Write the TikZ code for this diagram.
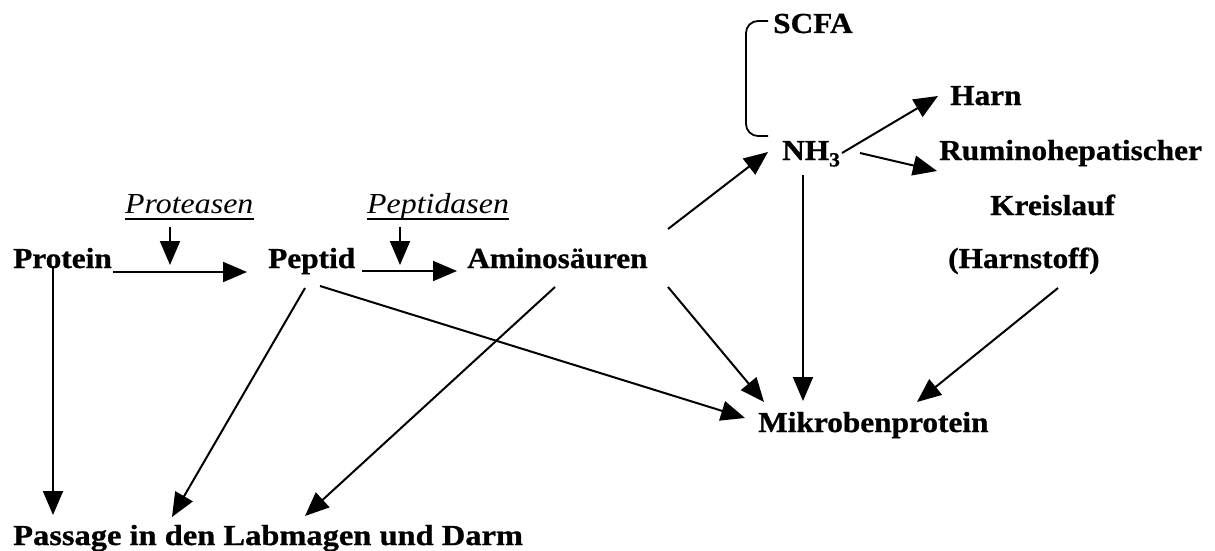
\documentclass[tikz,border=0pt]{standalone}
\usepackage{fontspec}
\setmainfont{Liberation Serif}[BoldFeatures={FakeBold=0.8}]
\usepackage{graphicx}
\usetikzlibrary{arrows.meta}
\newcommand\wide[2][1.08]{\scalebox{#1}[1]{#2}}
\begin{document}
\begin{tikzpicture}[x=1pt,y=-1pt,
  lbl/.style={inner sep=0pt,anchor=base west,font=\fontsize{29}{34}\selectfont\bfseries},
  enz/.style={inner sep=0pt,anchor=base west,font=\fontsize{29}{34}\selectfont\itshape},
  arr/.style={-{Triangle[length=24pt,width=20pt]},line width=2pt},
  ul/.style={line width=1.5pt},
  brk/.style={line width=1.8pt,rounded corners=12pt}]
\useasboundingbox (0,0) rectangle (1215,551);
% nodes
\node[lbl] (protein) at (13,268) {\wide{Protein}};
\node[lbl] (peptid) at (268,268) {\wide{Peptid}};
\node[lbl] (amino) at (467,268) {\wide{Aminosäuren}};
\node[enz] (proteasen) at (125,213) {\wide[1.1]{Proteasen}};
\node[enz] (peptidasen) at (367,213) {\wide[1.1]{Peptidasen}};
\node[lbl] (scfa) at (773,33) {\wide{SCFA}};
\node[lbl] (nh3) at (782,160) {\wide{NH\raisebox{-0.22em}{\fontsize{20}{20}\selectfont 3}}};
\node[lbl] (harn) at (950,105) {\wide{Harn}};
\node[lbl] (rumino) at (939,160) {\wide{Ruminohepatischer}};
\node[lbl] (kreis) at (990,215) {\wide{Kreislauf}};
\node[lbl] (harnstoff) at (948,268) {\wide{(Harnstoff)}};
\node[lbl] (mikro) at (758,432) {\wide{Mikrobenprotein}};
\node[lbl] (passage) at (13,545) {\wide[1.12]{Passage in den Labmagen und Darm}};
% underlines
\draw[ul] ([yshift=-6pt]proteasen.base west) -- ([yshift=-6pt]proteasen.base east);
\draw[ul] ([yshift=-6pt]peptidasen.base west) -- ([yshift=-6pt]peptidasen.base east);
% connector ends
\coordinate (p1) at (113,272); \coordinate (p2) at (247,272);
\coordinate (e1) at (170,227); \coordinate (e2) at (170,265);
\coordinate (q1) at (362,271); \coordinate (q2) at (457,271);
\coordinate (f1) at (400,227); \coordinate (f2) at (400,265);
\coordinate (pd1) at (53,266); \coordinate (pd2) at (53,515);
\coordinate (pp1) at (305,288); \coordinate (pp2) at (172,517);
\coordinate (ap1) at (555,287); \coordinate (ap2) at (305,516);
\coordinate (pm1) at (320,286); \coordinate (pm2) at (745,418);
\coordinate (am1) at (668,287); \coordinate (am2) at (764,402);
\coordinate (an1) at (668,229); \coordinate (an2) at (768,152);
\coordinate (nm1) at (803,175); \coordinate (nm2) at (803,401);
\coordinate (hm1) at (1058,288); \coordinate (hm2) at (917,402);
\coordinate (nh1) at (842,153); \coordinate (nh2) at (938,96);
\coordinate (nr1) at (860,153); \coordinate (nr2) at (937,171);
\coordinate (b1) at (768,21); \coordinate (b2) at (768,136);
% connectors
\draw[arr] (p1) -- (p2);
\draw[arr] (e1) -- (e2);
\draw[arr] (q1) -- (q2);
\draw[arr] (f1) -- (f2);
\draw[arr] (pd1) -- (pd2);
\draw[arr] (pp1) -- (pp2);
\draw[arr] (ap1) -- (ap2);
\draw[arr] (pm1) -- (pm2);
\draw[arr] (am1) -- (am2);
\draw[arr] (an1) -- (an2);
\draw[arr] (nm1) -- (nm2);
\draw[arr] (hm1) -- (hm2);
\draw[arr] (nh1) -- (nh2);
\draw[arr] (nr1) -- (nr2);
\draw[brk] (b1) -- (746,21) -- (746,136) -- (b2);
\end{tikzpicture}
\end{document}
